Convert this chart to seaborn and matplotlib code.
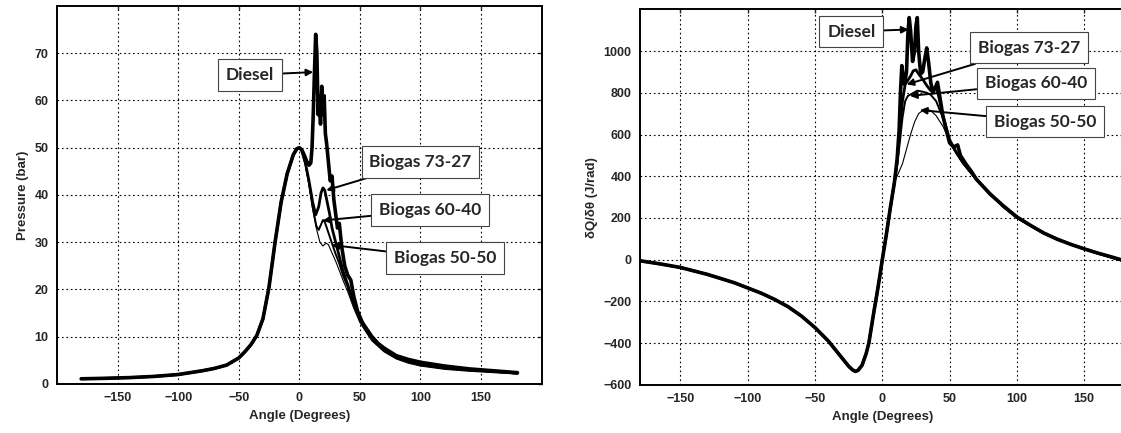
import numpy as np
import pandas as pd
import seaborn as sns
import matplotlib.pyplot as plt

# --- pressure trace (left) ---
# compression part, same for every fuel
ang_comp_p = [-180, -160, -140, -120, -100, -90, -80, -70, -60, -50, -45, -40, -35,
              -30, -25, -20, -15, -10, -5, -2, 0]
pres_comp = [1.1, 1.2, 1.35, 1.6, 2.0, 2.4, 2.8, 3.3, 4.0, 5.5, 6.8, 8.3, 10.3,
             13.8, 20.5, 30.0, 38.5, 44.5, 48.5, 49.8, 50.0]

diesel_ang_p = [2, 4, 6, 8, 9.5, 10.5, 11.5, 12.5, 13.5, 14.5, 15.5, 16.5, 17.5, 18.5,
                19.5, 20.5, 21.5, 22.5, 24, 25.5, 27, 28.5, 30, 31.5, 33, 35, 37.5, 40,
                42.5, 45, 48, 52, 56, 60, 65, 70, 80, 90, 100, 120, 140, 160, 180]
diesel_p = [49.6, 48.5, 47.2, 46.3, 46.8, 50, 57, 66, 74, 70, 57, 61, 55, 63,
            57, 61, 53, 51, 47, 43, 44, 39, 36, 33, 34, 29, 25, 23,
            22, 18.5, 15.5, 13, 11.5, 10, 8.6, 7.6, 6.0, 5.2, 4.6, 3.8, 3.2, 2.8, 2.4]

b73_ang_p = [2, 5, 8, 11, 13.5, 16, 18, 19.5, 21, 23, 25, 27, 30, 33, 36, 40, 45, 50,
             55, 60, 70, 80, 90, 100, 120, 140, 160, 180]
b73_p = [49.4, 46.8, 43, 38.5, 35.8, 37.5, 40.5, 41.5, 41, 38.5, 36, 33, 30, 27, 24, 21,
         17, 14, 11.8, 9.8, 7.2, 5.7, 4.8, 4.2, 3.5, 3.0, 2.7, 2.3]

b60_ang_p = [2, 5, 8, 11, 14, 16, 18, 19.5, 21, 23, 26, 30, 33, 36, 40, 45, 50, 55,
             60, 70, 80, 90, 100, 120, 140, 160, 180]
b60_p = [49.4, 46.6, 42.5, 37.5, 33.5, 32.6, 33.8, 34.7, 34.3, 32.8, 30.5, 27.5, 25.5,
         23, 20.5, 16.5, 13.5, 11.3, 9.4, 7.0, 5.5, 4.6, 4.0, 3.3, 2.9, 2.6, 2.2]

b50_ang_p = [2, 5, 8, 11, 14, 17, 19.5, 22, 24, 26, 30, 33, 36, 40, 45, 50, 55, 60,
             70, 80, 90, 100, 120, 140, 160, 180]
b50_p = [49.3, 46.3, 42, 37, 33, 30, 29.2, 29.8, 29.5, 28.3, 26, 24, 22, 19.5, 16, 13,
         11, 9.1, 6.8, 5.3, 4.4, 3.8, 3.1, 2.7, 2.4, 2.1]

# --- heat release rate (right) ---
ang_comp_q = [-180, -165, -150, -130, -110, -100, -90, -80, -70, -60, -50, -40, -35,
              -30, -25, -22, -20, -18, -15, -12, -10, -8, -6, -4, -2, 0, 3, 6, 9]
hrr_comp = [-5, -20, -37, -70, -110, -135, -160, -190, -225, -270, -325, -390, -430,
            -470, -510, -528, -535, -530, -505, -450, -400, -320, -240, -165, -85, 0,
            120, 250, 370]

diesel_ang_q = [11, 12.5, 13.5, 14.5, 15.5, 16.5, 18, 19, 20, 21, 22.5, 24, 25, 26, 27,
                28.5, 30, 31.5, 33, 34.5, 36, 37.5, 39, 41, 43, 45, 48, 50, 53, 56, 58,
                62, 66, 70, 75, 80, 90, 100, 110, 120, 130, 140, 150, 160, 170, 180]
diesel_q = [480, 620, 800, 930, 880, 840, 900, 1080, 1160, 1100, 950, 1000, 1120, 1160,
            1000, 890, 900, 960, 1015, 940, 850, 800, 820, 850, 770, 690, 610, 560, 540,
            550, 500, 460, 425, 385, 350, 315, 258, 205, 165, 128, 98, 74, 52, 32, 14, -5]

b73_ang_q = [11, 13, 15, 17, 19, 21, 23, 25, 27, 30, 33, 36, 38, 40, 42, 45, 50, 55, 60,
             70, 80, 90, 100, 120, 140, 160, 180]
b73_q = [470, 620, 760, 840, 860, 880, 905, 910, 890, 865, 835, 810, 820, 830, 780, 690,
         575, 515, 465, 385, 318, 255, 203, 127, 73, 32, -6]

b60_ang_q = [11, 13, 15, 17, 19, 22, 26, 30, 33, 36, 40, 45, 50, 55, 60, 70, 80, 90, 100,
             120, 140, 160, 180]
b60_q = [450, 560, 680, 760, 785, 795, 810, 805, 800, 790, 760, 680, 565, 510, 462, 383,
         316, 253, 201, 126, 72, 30, -8]

b50_ang_q = [11, 13, 15, 18, 21, 24, 27, 30, 33, 36, 40, 45, 50, 55, 60, 70, 80, 90, 100,
             120, 140, 160, 180]
b50_q = [400, 430, 460, 530, 600, 660, 700, 715, 720, 715, 690, 640, 570, 508, 460, 380,
         313, 250, 199, 124, 70, 28, -10]

fuels = ["Diesel", "Biogas 73-27", "Biogas 60-40", "Biogas 50-50"]
widths = [2.6, 2.0, 1.4, 0.8]

p_post = [(diesel_ang_p, diesel_p), (b73_ang_p, b73_p), (b60_ang_p, b60_p), (b50_ang_p, b50_p)]
q_post = [(diesel_ang_q, diesel_q), (b73_ang_q, b73_q), (b60_ang_q, b60_q), (b50_ang_q, b50_q)]

def build(comp_a, comp_v, posts, col):
    rows = []
    for fuel, (a, v) in zip(fuels, posts):
        rows.append(pd.DataFrame({"angle": comp_a + a, col: comp_v + v, "fuel": fuel}))
    return pd.concat(rows, ignore_index=True)

df_p = build(ang_comp_p, pres_comp, p_post, "pressure")
df_q = build(ang_comp_q, hrr_comp, q_post, "hrr")

sns.set_style("white")
plt.rcParams["font.family"] = ["Liberation Sans", "DejaVu Sans"]

fig = plt.figure(figsize=(11.21, 4.33), dpi=100)
ax1 = fig.add_axes([0.0508, 0.1132, 0.4324, 0.873])
ax2 = fig.add_axes([0.5709, 0.1109, 0.4323, 0.8677])

for fuel, lw in zip(fuels, widths):
    sns.lineplot(data=df_p[df_p.fuel == fuel], x="angle", y="pressure", ax=ax1,
                 color="black", lw=lw, sort=False)
    sns.lineplot(data=df_q[df_q.fuel == fuel], x="angle", y="hrr", ax=ax2,
                 color="black", lw=lw, sort=False)

ax1.set_xlim(-200, 200)
ax1.set_ylim(0, 80)
ax1.set_xticks([-150, -100, -50, 0, 50, 100, 150])
ax1.set_yticks([0, 10, 20, 30, 40, 50, 60, 70])
ax1.set_xlabel("Angle (Degrees)", fontsize=9.5, fontweight="bold")
ax1.set_ylabel("Pressure (bar)", fontsize=9.5, fontweight="bold")

ax2.set_xlim(-180, 180)
ax2.set_ylim(-600, 1200)
ax2.set_xticks([-150, -100, -50, 0, 50, 100, 150])
ax2.set_yticks([-600, -400, -200, 0, 200, 400, 600, 800, 1000])
ax2.set_xlabel("Angle (Degrees)", fontsize=9.5, fontweight="bold")
ax2.set_ylabel("δQ/δθ (J/rad)", fontsize=9.5, fontweight="bold")

for ax in (ax1, ax2):
    ax.grid(True, color="black", linestyle=(0, (1.5, 2.5)), lw=0.8)
    ax.tick_params(direction="in", length=3, width=1, top=True, right=True,
                   labelsize=9, pad=6)
    for lab in ax.get_xticklabels() + ax.get_yticklabels():
        lab.set_fontweight("bold")
    for s in ax.spines.values():
        s.set_color("black")
        s.set_linewidth(1.4)
    ax.legend_ = None

box = dict(boxstyle="square,pad=0.45", fc="white", ec="#444444", lw=0.8)
arrow = dict(arrowstyle="-|>", color="black", lw=1.4, mutation_scale=10, shrinkA=0, shrinkB=0)
lab_font = dict(fontsize=12.5, fontweight="bold", family="Lato", ha="center", va="center")

left_notes = [("Diesel", (11.5, 66), (-41, 65.4)),
              ("Biogas 73-27", (22.3, 41), (100, 47)),
              ("Biogas 60-40", (19.4, 34.6), (108, 36.8)),
              ("Biogas 50-50", (26.7, 29.4), (120, 26.6))]
right_notes = [("Diesel", (19.5, 1103), (-23, 1093)),
               ("Biogas 73-27", (18.1, 840), (109, 1016)),
               ("Biogas 60-40", (20.6, 785), (114, 845)),
               ("Biogas 50-50", (28, 717), (121, 662))]

for ax, notes in ((ax1, left_notes), (ax2, right_notes)):
    for txt, tip, pos in notes:
        ax.annotate(txt, xy=tip, xytext=pos, bbox=box, arrowprops=arrow, **lab_font)

fig.savefig("out.png", dpi=100)
